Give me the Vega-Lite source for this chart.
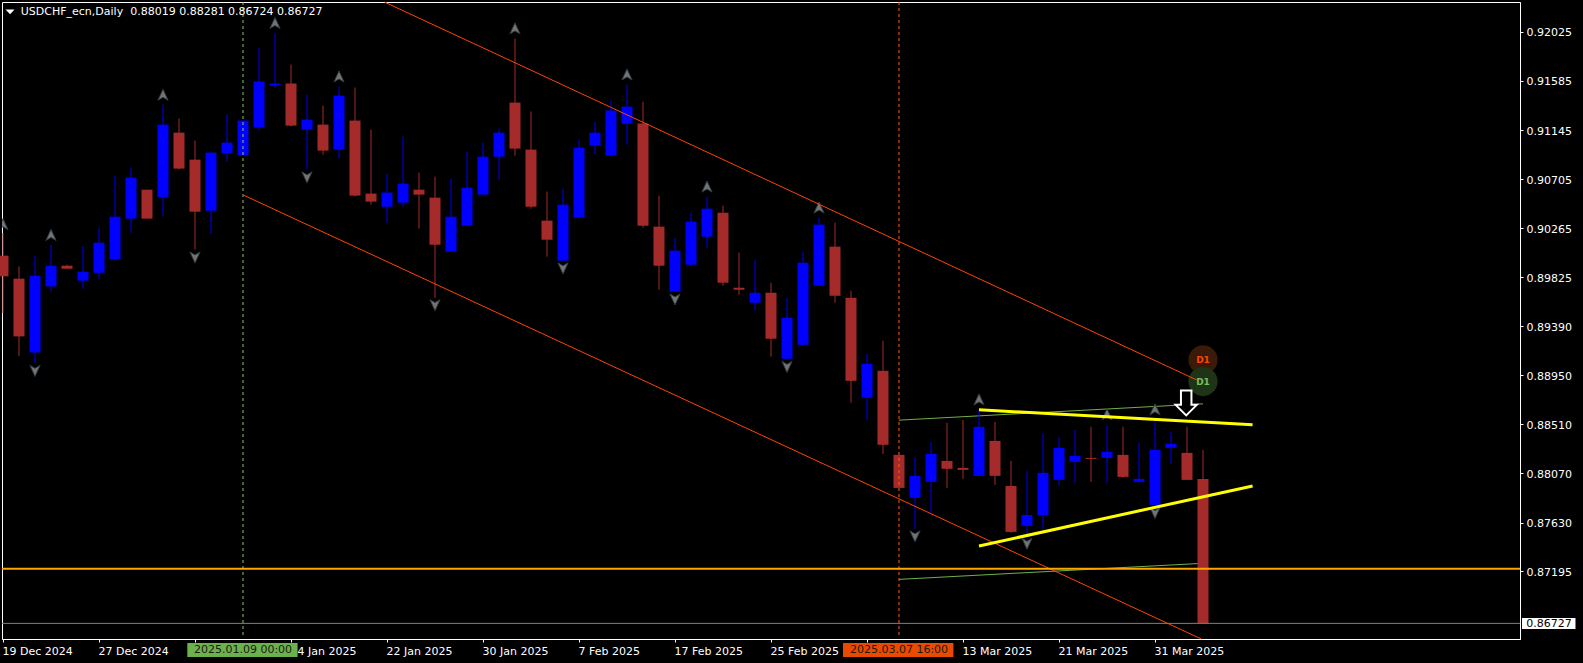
{"$schema":"https://vega.github.io/schema/vega-lite/v6.json","width":1518,"height":637,"autosize":"none","padding":{"left":2,"top":2,"right":63,"bottom":24},"background":"#000000","config":{"view":{"stroke":"#ffffff","strokeWidth":1},"axis":{"grid":false,"title":null,"domainColor":"#ffffff","tickColor":"#ffffff","labelColor":"#ffffff","labelFont":"DejaVu Sans","labelFontSize":11,"tickSize":3,"labelOverlap":false,"labelBound":false,"labelFlush":false}},
"datasets":{
"candles":[
{"bar":0,"date":"2024-12-19","open":0.90020,"high":0.90223,"low":0.89506,"close":0.89835,"dir":"down"},
{"bar":1,"date":"2024-12-20","open":0.89814,"high":0.89924,"low":0.89123,"close":0.89297,"dir":"down"},
{"bar":2,"date":"2024-12-23","open":0.89153,"high":0.90020,"low":0.89058,"close":0.89840,"dir":"up"},
{"bar":3,"date":"2024-12-24","open":0.89745,"high":0.90118,"low":0.89700,"close":0.89930,"dir":"up"},
{"bar":4,"date":"2024-12-25","open":0.89930,"high":0.89939,"low":0.89903,"close":0.89903,"dir":"down"},
{"bar":5,"date":"2024-12-26","open":0.89796,"high":0.90104,"low":0.89724,"close":0.89876,"dir":"up"},
{"bar":6,"date":"2024-12-27","open":0.89867,"high":0.90271,"low":0.89814,"close":0.90136,"dir":"up"},
{"bar":7,"date":"2024-12-30","open":0.89987,"high":0.90737,"low":0.89975,"close":0.90369,"dir":"up"},
{"bar":8,"date":"2024-12-31","open":0.90352,"high":0.90809,"low":0.90226,"close":0.90719,"dir":"up"},
{"bar":9,"date":"2025-01-01","open":0.90611,"high":0.90611,"low":0.90352,"close":0.90352,"dir":"down"},
{"bar":10,"date":"2025-01-02","open":0.90543,"high":0.91373,"low":0.90378,"close":0.91194,"dir":"up"},
{"bar":11,"date":"2025-01-03","open":0.91122,"high":0.91248,"low":0.90791,"close":0.90800,"dir":"down"},
{"bar":12,"date":"2025-01-06","open":0.90880,"high":0.91051,"low":0.90074,"close":0.90414,"dir":"down"},
{"bar":13,"date":"2025-01-07","open":0.90423,"high":0.90952,"low":0.90217,"close":0.90943,"dir":"up"},
{"bar":14,"date":"2025-01-08","open":0.90937,"high":0.91284,"low":0.90862,"close":0.91033,"dir":"up"},
{"bar":15,"date":"2025-01-09","open":0.90919,"high":0.91230,"low":0.90919,"close":0.91230,"dir":"up"},
{"bar":16,"date":"2025-01-10","open":0.91167,"high":0.91884,"low":0.91140,"close":0.91580,"dir":"up"},
{"bar":17,"date":"2025-01-13","open":0.91544,"high":0.92010,"low":0.91526,"close":0.91562,"dir":"up"},
{"bar":18,"date":"2025-01-14","open":0.91562,"high":0.91732,"low":0.91176,"close":0.91185,"dir":"down"},
{"bar":19,"date":"2025-01-15","open":0.91149,"high":0.91463,"low":0.90791,"close":0.91239,"dir":"up"},
{"bar":20,"date":"2025-01-16","open":0.91194,"high":0.91364,"low":0.90925,"close":0.90961,"dir":"down"},
{"bar":21,"date":"2025-01-17","open":0.90970,"high":0.91535,"low":0.90889,"close":0.91454,"dir":"up"},
{"bar":22,"date":"2025-01-20","open":0.91230,"high":0.91526,"low":0.90549,"close":0.90558,"dir":"down"},
{"bar":23,"date":"2025-01-21","open":0.90576,"high":0.91149,"low":0.90477,"close":0.90504,"dir":"down"},
{"bar":24,"date":"2025-01-22","open":0.90459,"high":0.90755,"low":0.90316,"close":0.90585,"dir":"up"},
{"bar":25,"date":"2025-01-23","open":0.90495,"high":0.91087,"low":0.90459,"close":0.90665,"dir":"up"},
{"bar":26,"date":"2025-01-24","open":0.90611,"high":0.90764,"low":0.90262,"close":0.90567,"dir":"down"},
{"bar":27,"date":"2025-01-27","open":0.90540,"high":0.90728,"low":0.89643,"close":0.90118,"dir":"down"},
{"bar":28,"date":"2025-01-28","open":0.90056,"high":0.90710,"low":0.90056,"close":0.90369,"dir":"up"},
{"bar":29,"date":"2025-01-29","open":0.90289,"high":0.90952,"low":0.90289,"close":0.90629,"dir":"up"},
{"bar":30,"date":"2025-01-30","open":0.90567,"high":0.91033,"low":0.90567,"close":0.90907,"dir":"up"},
{"bar":31,"date":"2025-01-31","open":0.90907,"high":0.91158,"low":0.90701,"close":0.91122,"dir":"up"},
{"bar":32,"date":"2025-02-03","open":0.91391,"high":0.91965,"low":0.90916,"close":0.90979,"dir":"down"},
{"bar":33,"date":"2025-02-04","open":0.90970,"high":0.91311,"low":0.90441,"close":0.90459,"dir":"down"},
{"bar":34,"date":"2025-02-05","open":0.90334,"high":0.90594,"low":0.90011,"close":0.90163,"dir":"down"},
{"bar":35,"date":"2025-02-06","open":0.89975,"high":0.90620,"low":0.89975,"close":0.90477,"dir":"up"},
{"bar":36,"date":"2025-02-07","open":0.90360,"high":0.91060,"low":0.90352,"close":0.90988,"dir":"up"},
{"bar":37,"date":"2025-02-10","open":0.91006,"high":0.91221,"low":0.90925,"close":0.91122,"dir":"up"},
{"bar":38,"date":"2025-02-11","open":0.90916,"high":0.91409,"low":0.90907,"close":0.91320,"dir":"up"},
{"bar":39,"date":"2025-02-12","open":0.91203,"high":0.91553,"low":0.91015,"close":0.91355,"dir":"up"},
{"bar":40,"date":"2025-02-13","open":0.91203,"high":0.91400,"low":0.90271,"close":0.90289,"dir":"down"},
{"bar":41,"date":"2025-02-14","open":0.90280,"high":0.90558,"low":0.89715,"close":0.89930,"dir":"down"},
{"bar":42,"date":"2025-02-17","open":0.89697,"high":0.90181,"low":0.89697,"close":0.90065,"dir":"up"},
{"bar":43,"date":"2025-02-18","open":0.89939,"high":0.90405,"low":0.89930,"close":0.90325,"dir":"up"},
{"bar":44,"date":"2025-02-19","open":0.90190,"high":0.90549,"low":0.90092,"close":0.90441,"dir":"up"},
{"bar":45,"date":"2025-02-20","open":0.90405,"high":0.90468,"low":0.89751,"close":0.89778,"dir":"down"},
{"bar":46,"date":"2025-02-21","open":0.89733,"high":0.90047,"low":0.89670,"close":0.89715,"dir":"down"},
{"bar":47,"date":"2025-02-24","open":0.89599,"high":0.89984,"low":0.89527,"close":0.89688,"dir":"up"},
{"bar":48,"date":"2025-02-25","open":0.89688,"high":0.89778,"low":0.89115,"close":0.89276,"dir":"down"},
{"bar":49,"date":"2025-02-26","open":0.89097,"high":0.89643,"low":0.89097,"close":0.89464,"dir":"up"},
{"bar":50,"date":"2025-02-27","open":0.89222,"high":0.90056,"low":0.89222,"close":0.89957,"dir":"up"},
{"bar":51,"date":"2025-02-28","open":0.89751,"high":0.90360,"low":0.89751,"close":0.90298,"dir":"up"},
{"bar":52,"date":"2025-03-03","open":0.90101,"high":0.90316,"low":0.89599,"close":0.89661,"dir":"down"},
{"bar":53,"date":"2025-03-04","open":0.89643,"high":0.89706,"low":0.88702,"close":0.88899,"dir":"down"},
{"bar":54,"date":"2025-03-05","open":0.88747,"high":0.89141,"low":0.88550,"close":0.89052,"dir":"up"},
{"bar":55,"date":"2025-03-06","open":0.88989,"high":0.89258,"low":0.88245,"close":0.88326,"dir":"down"},
{"bar":56,"date":"2025-03-07","open":0.88236,"high":0.88236,"low":0.87940,"close":0.87940,"dir":"down"},
{"bar":57,"date":"2025-03-10","open":0.87851,"high":0.88218,"low":0.87573,"close":0.88048,"dir":"up"},
{"bar":58,"date":"2025-03-11","open":0.87994,"high":0.88353,"low":0.87716,"close":0.88245,"dir":"up"},
{"bar":59,"date":"2025-03-12","open":0.88182,"high":0.88523,"low":0.87940,"close":0.88111,"dir":"down"},
{"bar":60,"date":"2025-03-13","open":0.88119,"high":0.88550,"low":0.88021,"close":0.88102,"dir":"down"},
{"bar":61,"date":"2025-03-14","open":0.88048,"high":0.88639,"low":0.88048,"close":0.88487,"dir":"up"},
{"bar":62,"date":"2025-03-17","open":0.88361,"high":0.88532,"low":0.87967,"close":0.88048,"dir":"down"},
{"bar":63,"date":"2025-03-18","open":0.87958,"high":0.88182,"low":0.87537,"close":0.87546,"dir":"down"},
{"bar":64,"date":"2025-03-19","open":0.87600,"high":0.88093,"low":0.87504,"close":0.87698,"dir":"up"},
{"bar":65,"date":"2025-03-20","open":0.87698,"high":0.88424,"low":0.87564,"close":0.88075,"dir":"up"},
{"bar":66,"date":"2025-03-21","open":0.88012,"high":0.88397,"low":0.87958,"close":0.88299,"dir":"up"},
{"bar":67,"date":"2025-03-24","open":0.88173,"high":0.88460,"low":0.87985,"close":0.88227,"dir":"up"},
{"bar":68,"date":"2025-03-25","open":0.88209,"high":0.88487,"low":0.87994,"close":0.88200,"dir":"down"},
{"bar":69,"date":"2025-03-26","open":0.88209,"high":0.88505,"low":0.87985,"close":0.88263,"dir":"up"},
{"bar":70,"date":"2025-03-27","open":0.88236,"high":0.88487,"low":0.88030,"close":0.88039,"dir":"down"},
{"bar":71,"date":"2025-03-28","open":0.87994,"high":0.88344,"low":0.87985,"close":0.88021,"dir":"up"},
{"bar":72,"date":"2025-03-31","open":0.87788,"high":0.88541,"low":0.87788,"close":0.88281,"dir":"up"},
{"bar":73,"date":"2025-04-01","open":0.88299,"high":0.88442,"low":0.88155,"close":0.88335,"dir":"up"},
{"bar":74,"date":"2025-04-02","open":0.88254,"high":0.88487,"low":0.88012,"close":0.88012,"dir":"down"},
{"bar":75,"date":"2025-04-03","open":0.88019,"high":0.88281,"low":0.86724,"close":0.86727,"dir":"down"}
],
"fractalsUp":[{"bar":0,"price":0.90298},{"bar":3,"price":0.90202},{"bar":10,"price":0.91457},{"bar":17,"price":0.92100},{"bar":21,"price":0.91621},{"bar":32,"price":0.92052},{"bar":39,"price":0.91639},{"bar":44,"price":0.90635},{"bar":51,"price":0.90447},{"bar":61,"price":0.88729},{"bar":69,"price":0.88595},{"bar":72,"price":0.88640}],
"fractalsDown":[{"bar":2,"price":0.88992},{"bar":12,"price":0.90008},{"bar":19,"price":0.90725},{"bar":27,"price":0.89581},{"bar":35,"price":0.89910},{"bar":42,"price":0.89632},{"bar":49,"price":0.89028},{"bar":57,"price":0.87510},{"bar":64,"price":0.87444},{"bar":72,"price":0.87719}],
"greenLines":[{"bar":56,"price":0.88547,"series":"g1"},{"bar":75,"price":0.88693,"series":"g1"},{"bar":56,"price":0.87121,"series":"g2"},{"bar":75,"price":0.87265,"series":"g2"}],
"channel":[
{"bar":23.84,"price":0.92292,"series":"channelUpper"},{"bar":74.59,"price":0.88908,"series":"channelUpper"},
{"bar":15.05,"price":0.90561,"series":"channelLower"},{"bar":74.9,"price":0.86587,"series":"channelLower"}],
"last":[{"bar":-0.0625,"price":0.86727},{"bar":94.8125,"price":0.86727}],
"level":[{"bar":-0.0625,"price":0.87217},{"bar":94.8125,"price":0.87217}],
"trend":[
{"bar":61,"price":0.88640,"series":"trendUpper"},{"bar":78.1,"price":0.88505,"series":"trendUpper"},
{"bar":61,"price":0.87420,"series":"trendLower"},{"bar":78.1,"price":0.87958,"series":"trendLower"}],
"vlineGreen":[{"bar":15,"price":0.92292},{"bar":15,"price":0.86614}],
"vlineOrange":[{"bar":56,"price":0.92292},{"bar":56,"price":0.86614}],
"circleOrange":[{"bar":75,"price":0.89088,"label":"D1"}],
"circleGreen":[{"bar":75,"price":0.88893,"label":"D1"}],
"signal":[{"bar":73.95,"price":0.88701}],
"header":[{"bar":1.11,"price":0.92204,"label":"USDCHF_ecn,Daily\u00a0\u00a00.88019 0.88281 0.86724 0.86727"}],
"headerMark":[{"bar":0.44,"price":0.92204}],
"lastBox":[{"bar":94.94,"bar2":98.28,"price":0.86775,"price2":0.86676}],
"lastLabel":[{"bar":95.2,"price":0.86727,"label":"0.86727"}],
"boxGreen":[{"bar":11.52,"bar2":18.41,"price":0.86551,"price2":0.86425}],
"boxOrange":[{"bar":52.5,"bar2":59.4,"price":0.86551,"price2":0.86425}],
"boxLabels":[{"bar":15,"price":0.86488,"label":"2025.01.09 00:00"},{"bar":56,"price":0.86488,"label":"2025.03.07 16:00"}]
},
"encoding":{
"x":{"field":"bar","type":"quantitative","scale":{"domain":[-0.0625,94.8125],"nice":false,"zero":false,"padding":0},"axis":{"values":[0,6,12,18,24,30,36,42,48,54,60,66,72],"labelAlign":"left","labelOffset":-1,"labelPadding":3,"labelExpr":"['19 Dec 2024','27 Dec 2024','','14 Jan 2025','22 Jan 2025','30 Jan 2025','7 Feb 2025','17 Feb 2025','25 Feb 2025','','13 Mar 2025','21 Mar 2025','31 Mar 2025'][datum.value/6]"}},
"y":{"field":"price","type":"quantitative","scale":{"domain":[0.86587,0.92292],"nice":false,"zero":false},"axis":{"orient":"right","values":[0.92025,0.91585,0.91145,0.90705,0.90265,0.89825,0.8939,0.8895,0.8851,0.8807,0.8763,0.87195],"format":".5f","labelPadding":3,"labelOffset":1}}
},
"resolve":{"scale":{"color":"independent"}},
"layer":[
{"data":{"name":"greenLines"},"mark":{"type":"line","stroke":"#6fb04a","strokeWidth":1},"encoding":{"detail":{"field":"series"}}},
{"data":{"name":"candles"},"mark":{"type":"rule","strokeWidth":1},"encoding":{"y":{"field":"low","type":"quantitative","scale":{"domain":[0.86587,0.92292],"nice":false,"zero":false}},"y2":{"field":"high"},"color":{"field":"dir","scale":{"domain":["up","down"],"range":["#0000ff","#a52a2a"]},"legend":null}}},
{"data":{"name":"candles"},"mark":{"type":"bar","size":11},"encoding":{"y":{"field":"open","type":"quantitative","scale":{"domain":[0.86587,0.92292],"nice":false,"zero":false}},"y2":{"field":"close"},"color":{"field":"dir","scale":{"domain":["up","down"],"range":["#0000ff","#a52a2a"]},"legend":null}}},
{"data":{"name":"fractalsUp"},"mark":{"type":"point","filled":true,"clip":true,"shape":"M0,-1L0.85,0.85L0,0.35L-0.85,0.85Z","size":144,"fill":"#747474","stroke":"#2f3a42","strokeWidth":1,"opacity":1}},
{"data":{"name":"fractalsDown"},"mark":{"type":"point","filled":true,"clip":true,"shape":"M0,1L0.85,-0.85L0,-0.35L-0.85,-0.85Z","size":144,"fill":"#747474","stroke":"#2f3a42","strokeWidth":1,"opacity":1}},
{"data":{"name":"vlineGreen"},"mark":{"type":"line","stroke":"#8fc46f","strokeWidth":1,"strokeDash":[3,3]}},
{"data":{"name":"vlineOrange"},"mark":{"type":"line","stroke":"#ff5a14","strokeWidth":1,"strokeDash":[3,3]}},
{"data":{"name":"circleOrange"},"mark":{"type":"circle","size":855,"fill":"#3a1a08","opacity":1}},
{"data":{"name":"circleOrange"},"mark":{"type":"text","font":"DejaVu Sans","fontWeight":"bold","fontSize":9,"color":"#ff4500"},"encoding":{"text":{"field":"label"}}},
{"data":{"name":"circleGreen"},"mark":{"type":"circle","size":855,"fill":"#1f3316","opacity":1}},
{"data":{"name":"channel"},"mark":{"type":"line","stroke":"#ff4500","strokeWidth":1},"encoding":{"detail":{"field":"series"}}},
{"data":{"name":"last"},"mark":{"type":"line","stroke":"#808080","strokeWidth":1}},
{"data":{"name":"level"},"mark":{"type":"line","stroke":"#ffa500","strokeWidth":2}},
{"data":{"name":"trend"},"mark":{"type":"line","stroke":"#ffff00","strokeWidth":3},"encoding":{"detail":{"field":"series"}}},
{"data":{"name":"circleGreen"},"mark":{"type":"text","font":"DejaVu Sans","fontWeight":"bold","fontSize":9,"color":"#79c05a"},"encoding":{"text":{"field":"label"}}},
{"data":{"name":"signal"},"mark":{"type":"point","filled":true,"shape":"M-0.42,-1L0.42,-1L0.42,0.15L0.85,0.15L0,1L-0.85,0.15L-0.42,0.15Z","size":625,"fill":"#000000","stroke":"#ffffff","strokeWidth":2,"opacity":1}},
{"data":{"name":"header"},"mark":{"type":"text","align":"left","baseline":"middle","font":"DejaVu Sans","fontSize":11,"color":"#ffffff"},"encoding":{"text":{"field":"label"}}},
{"data":{"name":"headerMark"},"mark":{"type":"point","filled":true,"shape":"M-1,-0.5L1,-0.5L0,0.55Z","size":81,"fill":"#ffffff","opacity":1}},
{"data":{"name":"lastBox"},"mark":{"type":"rect","color":"#ffffff"},"encoding":{"x2":{"field":"bar2"},"y2":{"field":"price2"}}},
{"data":{"name":"lastLabel"},"mark":{"type":"text","align":"left","baseline":"middle","dy":1,"font":"DejaVu Sans","fontSize":11,"color":"#000000"},"encoding":{"text":{"field":"label"}}},
{"data":{"name":"boxGreen"},"mark":{"type":"rect","color":"#6cb24c"},"encoding":{"x2":{"field":"bar2"},"y2":{"field":"price2"}}},
{"data":{"name":"boxOrange"},"mark":{"type":"rect","color":"#e84a00"},"encoding":{"x2":{"field":"bar2"},"y2":{"field":"price2"}}},
{"data":{"name":"boxLabels"},"mark":{"type":"text","align":"center","baseline":"middle","font":"DejaVu Sans","fontSize":11,"color":"#1a1a1a"},"encoding":{"text":{"field":"label"}}}
]}
